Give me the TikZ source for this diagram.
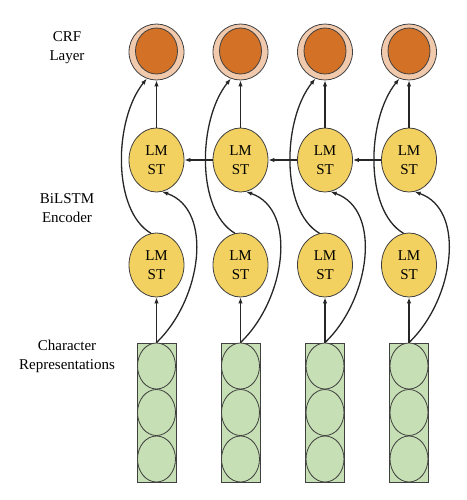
\documentclass[tikz,border=0pt]{standalone}
\usepackage{fontspec}
\setmainfont{Liberation Serif}
\usetikzlibrary{shapes,arrows.meta}
\definecolor{ringpeach}{RGB}{241,201,172}
\definecolor{coreorange}{RGB}{211,113,38}
\definecolor{cellyellow}{RGB}{242,209,96}
\definecolor{repgreen}{RGB}{198,223,180}
\definecolor{outline}{RGB}{64,64,64}
\tikzset{
  crfring/.style={ellipse, draw=outline, line width=0.8pt, fill=ringpeach, minimum width=55pt, minimum height=56pt, inner sep=0pt},
  crfcore/.style={ellipse, draw=outline, line width=0.8pt, fill=coreorange, minimum width=42pt, minimum height=46pt, inner sep=0pt},
  cell/.style={ellipse, draw=outline, line width=0.8pt, fill=cellyellow, minimum width=55pt, minimum height=64pt, inner sep=0pt, align=center},
  repbox/.style={rectangle, draw=outline, line width=0.8pt, fill=repgreen, minimum width=39pt, minimum height=139pt, inner sep=0pt},
  unit/.style={ellipse, draw=outline, line width=0.8pt, fill=repgreen, minimum width=38pt, minimum height=46pt, inner sep=0pt},
  link/.style={->, >={Latex[length=6pt,width=4.5pt]}, line width=1.3pt, draw=black!85}
}
\begin{document}
\begin{tikzpicture}[x=10pt, y=-10pt, font=\fontsize{15}{19}\selectfont]
\useasboundingbox (0,0) rectangle (46.6,50);
\node [align=center] (crflabel) at (6.7,4.75) {CRF\\Layer};
\node [align=center] (enclabel) at (6.7,20.85) {BiLSTM\\Encoder};
\node [align=center] (replabel) at (6.7,35.6) {Character\\Representations};
\node [crfring] (crf1) at (15.65,5.2) {};
\node [crfring] (crf2) at (24.05,5.2) {};
\node [crfring] (crf3) at (32.5,5.2) {};
\node [crfring] (crf4) at (40.9,5.2) {};
\node [crfcore] (core1) at (15.65,5.1) {};
\node [crfcore] (core2) at (24.05,5.1) {};
\node [crfcore] (core3) at (32.5,5.1) {};
\node [crfcore] (core4) at (40.9,5.1) {};
\node [cell] (top1) at (15.65,16) {LM\\ST};
\node [cell] (top2) at (24.05,16) {LM\\ST};
\node [cell] (top3) at (32.5,16) {LM\\ST};
\node [cell] (top4) at (40.9,16) {LM\\ST};
\node [cell] (low1) at (15.65,26.5) {LM\\ST};
\node [cell] (low2) at (24.05,26.5) {LM\\ST};
\node [cell] (low3) at (32.5,26.5) {LM\\ST};
\node [cell] (low4) at (40.9,26.5) {LM\\ST};
\node [repbox] (rep1) at (15.65,41.25) {};
\node [repbox] (rep2) at (24.05,41.25) {};
\node [repbox] (rep3) at (32.5,41.25) {};
\node [repbox] (rep4) at (40.9,41.25) {};
\node [unit] (unit11) at (15.65,36.6) {};
\node [unit] (unit12) at (15.65,41.25) {};
\node [unit] (unit13) at (15.65,45.9) {};
\node [unit] (unit21) at (24.05,36.6) {};
\node [unit] (unit22) at (24.05,41.25) {};
\node [unit] (unit23) at (24.05,45.9) {};
\node [unit] (unit31) at (32.5,36.6) {};
\node [unit] (unit32) at (32.5,41.25) {};
\node [unit] (unit33) at (32.5,45.9) {};
\node [unit] (unit41) at (40.9,36.6) {};
\node [unit] (unit42) at (40.9,41.25) {};
\node [unit] (unit43) at (40.9,45.9) {};
\draw [link] (rep1.north) -- (low1);
\draw [link] (rep2.north) -- (low2);
\draw [link] (rep3.north) -- (low3);
\draw [link] (rep4.north) -- (low4);
\draw [link] (rep1.north) .. controls +(4.5,-4.3) and +(5.2,1.8) .. (top1.-80);
\draw [link] (rep2.north) .. controls +(4.5,-4.3) and +(5.2,1.8) .. (top2.-80);
\draw [link] (rep3.north) .. controls +(4.5,-4.3) and +(5.2,1.8) .. (top3.-80);
\draw [link] (rep4.north) .. controls +(4.5,-4.3) and +(5.2,1.8) .. (top4.-80);
\draw [link] (low1.100) .. controls +(-3.9,-2.3) and +(-3.3,4.1) .. (crf1.250);
\draw [link] (low2.100) .. controls +(-3.9,-2.3) and +(-3.3,4.1) .. (crf2.250);
\draw [link] (low3.100) .. controls +(-3.9,-2.3) and +(-3.3,4.1) .. (crf3.250);
\draw [link] (low4.100) .. controls +(-3.9,-2.3) and +(-3.3,4.1) .. (crf4.250);
\draw [link] (top1) -- (crf1);
\draw [link] (top2) -- (crf2);
\draw [link] (top3) -- (crf3);
\draw [link] (top4) -- (crf4);
\draw [link] (top2) -- (top1);
\draw [link] (top3) -- (top2);
\draw [link] (top4) -- (top3);
\end{tikzpicture}
\end{document}
